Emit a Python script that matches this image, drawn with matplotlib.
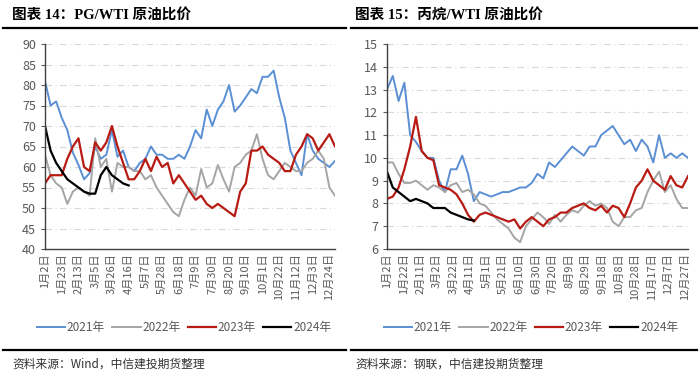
import matplotlib as mpl
mpl.use('Agg')
import matplotlib.pyplot as plt
from matplotlib.lines import Line2D
import numpy as np

plt.rcParams['font.family'] = ['Noto Sans CJK SC', 'DejaVu Sans']

# ---- PG/WTI (weekly readings) ----
pg_ticks = ['1月2日', '1月23日', '2月13日', '3月5日', '3月26日', '4月16日', '5月7日',
            '5月28日', '6月18日', '7月9日', '7月30日', '8月20日', '9月10日', '10月1日',
            '10月22日', '11月12日', '12月3日', '12月24日']
pg_2021 = [81, 75, 76, 72, 69, 63.5, 60.5, 57, 58.5, 65, 62, 63, 69, 62.5, 64, 60,
           59, 61, 62, 65, 63, 63, 62, 62, 63, 62, 65, 69, 67, 74, 70, 74,
           76, 80, 73.5, 75, 77, 79, 78, 82, 82, 83.5, 77, 72, 64, 61, 58, 68,
           64, 62, 61, 60, 61.5]
pg_2022 = [63, 58, 56, 55, 51, 54, 55, 54, 53, 67, 60, 62, 54, 61, 60, 60,
           59, 59, 57, 58, 55, 53, 51, 49, 48, 52, 55, 53, 59.5, 55, 56, 60.5,
           57, 54, 60, 61, 63, 64, 68, 62, 58, 57, 59, 61, 60, 59, 59, 61,
           62, 64, 62, 55, 53]
pg_2023 = [56, 58, 58, 58, 62, 65, 67, 60, 59, 66, 64, 66, 70, 65, 61, 57,
           57, 59, 62, 59, 62.5, 60, 61, 56, 58, 56, 54, 52, 53, 51, 50, 51,
           50, 49, 48, 54, 56, 64, 64, 65, 63, 62, 61, 59, 59, 63, 65, 68,
           67, 64, 66, 68, 65, 67]
pg_2024 = [70, 64, 61, 59, 57, 56, 55, 54, 53.5, 53.5, 58, 60, 58, 57, 56, 55.5]

# ---- 丙烷/WTI (weekly readings) ----
pr_ticks = ['1月2日', '1月22日', '2月11日', '3月2日', '3月22日', '4月11日', '5月1日',
            '5月21日', '6月10日', '6月30日', '7月20日', '8月9日', '8月29日', '9月18日',
            '10月8日', '10月28日', '11月17日', '12月7日', '12月27日']
pr_2021 = [13.0, 13.6, 12.5, 13.3, 11.0, 10.7, 10.3, 10.0, 10.0, 9.0, 8.5, 9.5,
           9.5, 10.1, 9.3, 8.1, 8.5, 8.4, 8.3, 8.4, 8.5, 8.5, 8.6, 8.7, 8.7,
           8.9, 9.3, 9.1, 9.8, 9.6, 9.9, 10.2, 10.5, 10.3, 10.1, 10.5, 10.5,
           11.0, 11.2, 11.4, 11.0, 10.6, 10.8, 10.3, 10.8, 10.5, 9.8, 11.0,
           10.0, 10.2, 10.0, 10.2, 10.0]
pr_2022 = [9.8, 9.8, 9.3, 8.9, 8.9, 9.0, 8.8, 8.6, 8.8, 8.7, 8.5, 8.8, 8.9,
           8.5, 8.6, 8.4, 8.0, 7.9, 7.6, 7.3, 7.1, 6.9, 6.5, 6.3, 7.0, 7.3,
           7.6, 7.4, 7.1, 7.5, 7.2, 7.5, 7.7, 7.6, 7.9, 8.1, 7.9, 8.0, 7.8,
           7.2, 7.0, 7.4, 7.4, 7.7, 7.8, 8.5, 9.0, 9.4, 8.5, 8.8, 8.2, 7.8, 7.8]
pr_2023 = [8.2, 8.3, 8.7, 9.5, 10.5, 11.8, 10.3, 10.0, 9.9, 8.8, 8.7, 8.6,
           8.4, 8.0, 7.5, 7.2, 7.5, 7.6, 7.5, 7.4, 7.3, 7.2, 7.3, 6.9, 7.2,
           7.4, 7.2, 7.0, 7.3, 7.4, 7.6, 7.6, 7.8, 7.9, 8.0, 7.8, 7.7, 7.9,
           7.6, 7.9, 7.8, 7.4, 8.0, 8.7, 9.0, 9.5, 9.0, 8.8, 8.6, 9.2, 8.8,
           8.7, 9.2]
pr_2024 = [9.4, 8.7, 8.5, 8.3, 8.1, 8.2, 8.1, 8.0, 7.8, 7.8, 7.8, 7.6, 7.5,
           7.4, 7.3, 7.25]

years = ['2021年', '2022年', '2023年', '2024年']
colors = ['#5b8fd4', '#a5a5a5', '#b81a14', '#000000']
widths = [1.4, 1.4, 1.6, 1.6]


def draw_panel(ax, series, ticks, step, ylim, ystep, legend_x):
  for s, lab, c, w in zip(series, years, colors, widths):
    days = np.arange(len(s)) * 7
    ax.plot(days, s, color=c, lw=w, label=lab)
  ax.set_xlim(0, 364)
  ax.set_ylim(*ylim)
  ax.set_yticks(np.arange(ylim[0], ylim[1] + 0.01, ystep))
  ax.set_xticks(np.arange(len(ticks)) * step)
  ax.set_xticklabels(ticks, rotation=90, fontsize=8, color='#595959')
  ax.tick_params(axis='x', length=0, pad=3)
  ax.tick_params(axis='y', labelsize=9, colors='#595959', length=3, width=0.8)
  ax.yaxis.grid(True, color='#d9d9d9', lw=0.8, ls=(0, (6, 3, 1, 3)))
  ax.set_axisbelow(True)
  for sp in ['top', 'right']:
    ax.spines[sp].set_visible(False)
  for sp in ['left', 'bottom']:
    ax.spines[sp].set_color('#404040')
    ax.spines[sp].set_linewidth(1.0)
  ax.legend(loc='center', bbox_to_anchor=(legend_x, 1 - 328 / 381.),
            bbox_transform=ax.figure.transFigure, ncol=4, frameon=False,
            fontsize=8.5, handlelength=2.4, handletextpad=0.15, columnspacing=0.6,
            labelcolor='#595959', borderpad=0)


fig = plt.figure(figsize=(7, 3.81), dpi=100)
ax1 = fig.add_axes([45 / 700., 1 - 249 / 381., 290 / 700., 205 / 381.])
ax2 = fig.add_axes([387 / 700., 1 - 249 / 381., 301 / 700., 205 / 381.])

draw_panel(ax1, [pg_2021, pg_2022, pg_2023, pg_2024], pg_ticks, 21, (40, 90), 5, 184 / 700.)
draw_panel(ax2, [pr_2021, pr_2022, pr_2023, pr_2024], pr_ticks, 20, (6, 15), 1, 531 / 700.)

title_font = ['Liberation Serif', 'Noto Sans CJK SC']
fig.text(12 / 700., 1 - 15 / 381., '图表 14：PG/WTI 原油比价', fontsize=10.5,
         fontweight='bold', family=title_font, va='center')
fig.text(355 / 700., 1 - 15 / 381., '图表 15：丙烷/WTI 原油比价', fontsize=10.5,
         fontweight='bold', family=title_font, va='center')

for x0, x1 in [(3, 346), (351, 697)]:
  for y in [28, 350]:
    fig.add_artist(Line2D([x0 / 700., x1 / 700.], [1 - y / 381.] * 2,
                          color='black', lw=1.6))

fig.text(12 / 700., 1 - 364 / 381., '资料来源：Wind，中信建投期货整理', fontsize=8.5,
         style='italic', va='center', color='#333333')
fig.text(355 / 700., 1 - 364 / 381., '资料来源：钢联，中信建投期货整理', fontsize=8.5,
         style='italic', va='center', color='#333333')

plt.savefig('out.png', dpi=100)
